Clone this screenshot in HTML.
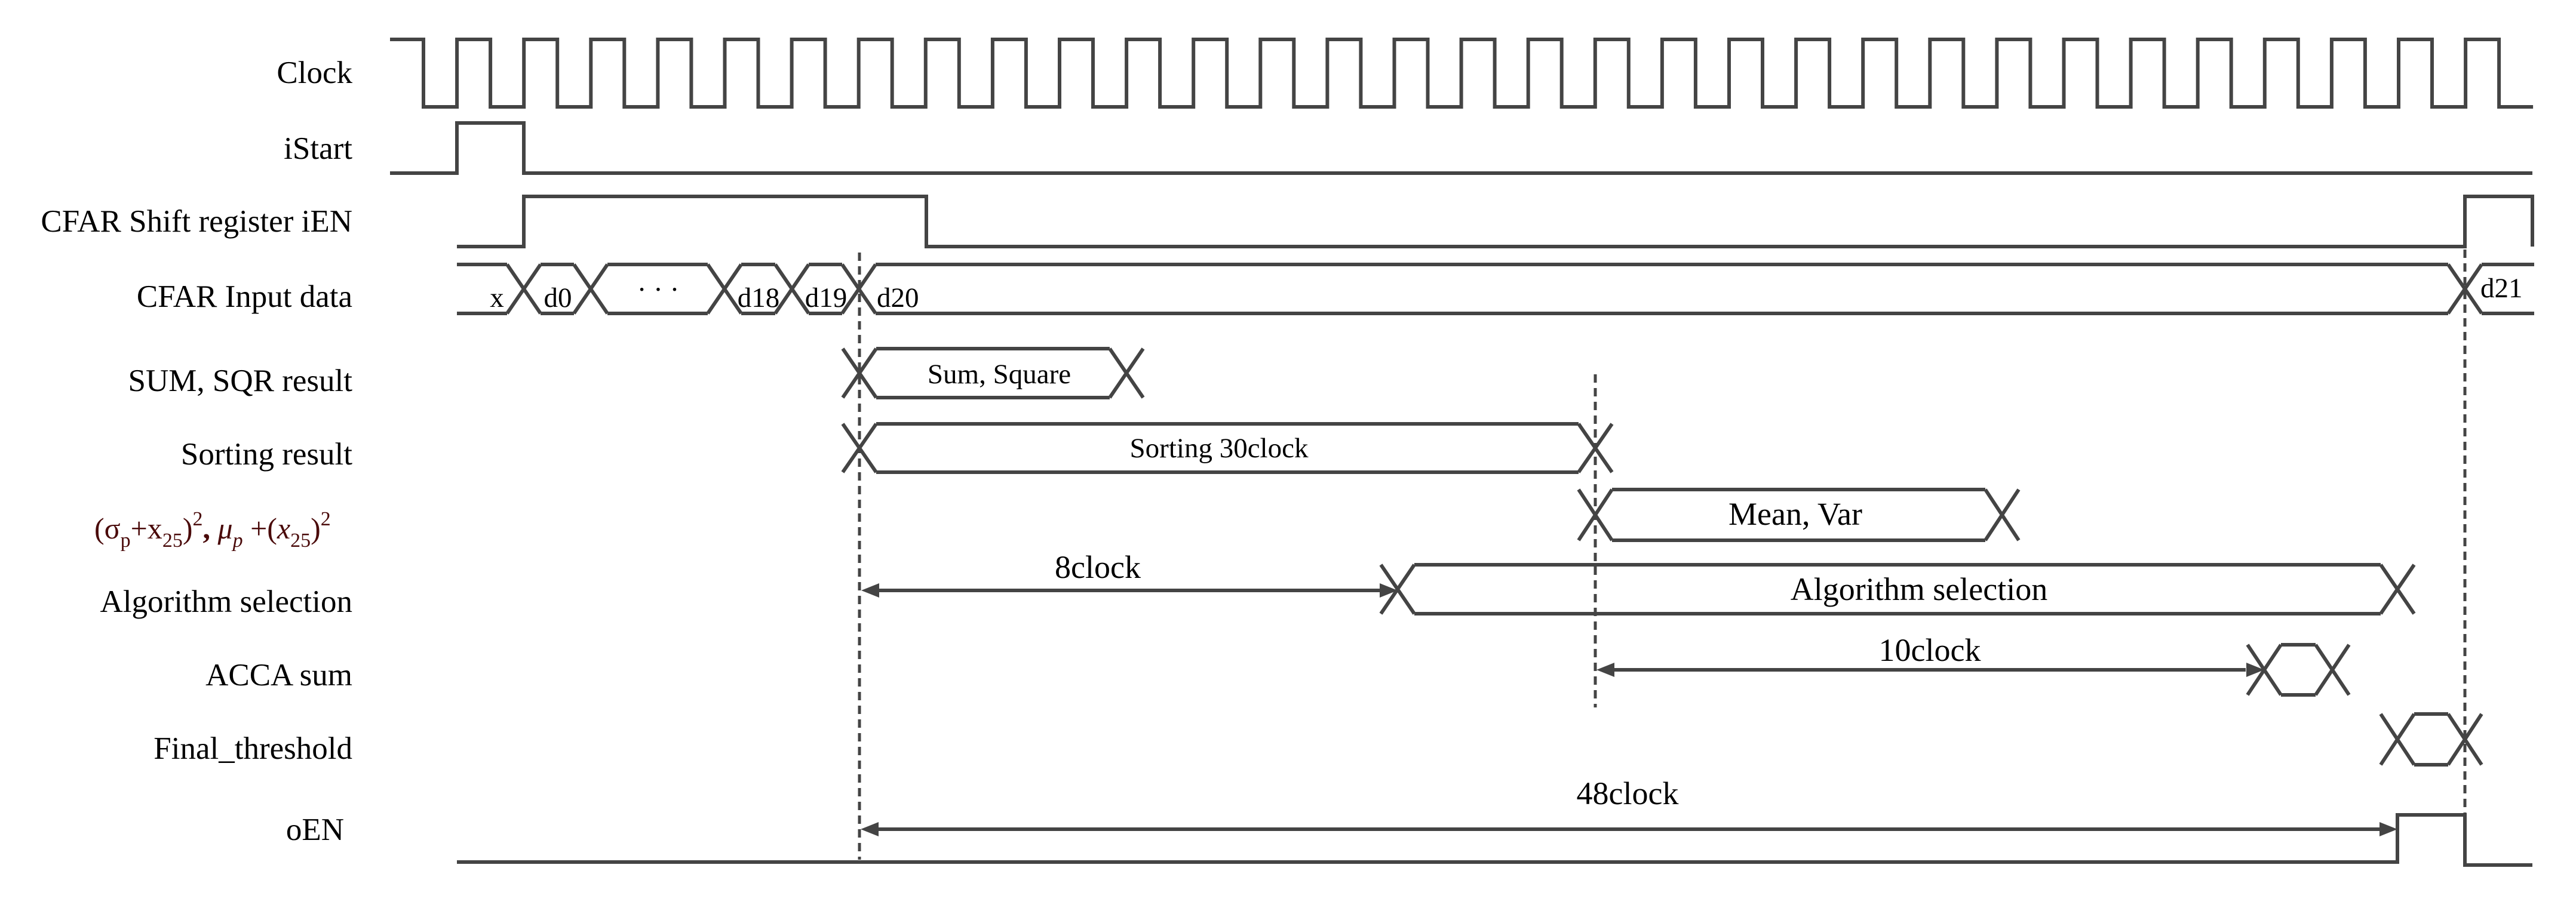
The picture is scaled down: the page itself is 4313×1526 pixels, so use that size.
<!DOCTYPE html>
<html><head><meta charset="utf-8"><style>
html,body{margin:0;padding:0;background:#fff;}
svg{display:block;}
text{font-family:"Liberation Serif",serif;fill:#000;}
</style></head><body>
<svg width="4313" height="1526" viewBox="0 0 4313 1526" xmlns="http://www.w3.org/2000/svg">
<g font-size="53" text-anchor="end">
<text x="590" y="139">Clock</text>
<text x="590" y="266">iStart</text>
<text x="590" y="388">CFAR Shift register iEN</text>
<text x="590" y="514">CFAR Input data</text>
<text x="590" y="655">SUM, SQR result</text>
<text x="590" y="778">Sorting result</text>
<text x="590" y="1025">Algorithm selection</text>
<text x="590" y="1148">ACCA sum</text>
<text x="590" y="1271">Final_threshold</text>
<text x="576" y="1407">oEN</text>
</g>
<text x="158" y="902" font-size="50" style="fill:#4a0a0a">(σ<tspan font-size="34" dy="14">p</tspan><tspan dy="-14">+x</tspan><tspan font-size="34" dy="14">25</tspan><tspan dy="-14">)</tspan><tspan font-size="34" dy="-22">2</tspan><tspan dy="22" font-weight="bold">, </tspan><tspan font-style="italic">μ</tspan><tspan font-size="34" font-style="italic" dy="14">p</tspan><tspan dy="-14"> +(</tspan><tspan font-style="italic">x</tspan><tspan font-size="34" dy="14">25</tspan><tspan dy="-14">)</tspan><tspan font-size="34" dy="-22">2</tspan></text>

<g fill="none" stroke="#444" stroke-width="6" stroke-linejoin="miter">
<!-- clock -->
<path d="M653,66 h56 v113 h56.1 v-113 h56 v113 h56.1 v-113 h56 v113 h56.1 v-113 h56 v113 h56.1 v-113 h56 v113 h56.1 v-113 h56 v113 h56.1 v-113 h56 v113 h56.1 v-113 h56 v113 h56.1 v-113 h56 v113 h56.1 v-113 h56 v113 h56.1 v-113 h56 v113 h56.1 v-113 h56 v113 h56.1 v-113 h56 v113 h56.1 v-113 h56 v113 h56.1 v-113 h56 v113 h56.1 v-113 h56 v113 h56.1 v-113 h56 v113 h56.1 v-113 h56 v113 h56.1 v-113 h56 v113 h56.1 v-113 h56 v113 h56.1 v-113 h56 v113 h56.1 v-113 h56 v113 h56.1 v-113 h56 v113 h56.1 v-113 h56 v113 h56.1 v-113 h56 v113 h56.1 v-113 h56 v113 h56.1 v-113 h56 v113 h56.1 v-113 h56 v113 h56.1 v-113 h56 v113 h56.1 v-113 h56 v113 h56.1 v-113 h56 v113 h56.1 v-113 h56 v113 h57"/>
<!-- iStart -->
<path d="M653,290 H765 V206 H877 V290 H4240"/>
<!-- iEN -->
<path d="M765,413 H877 V329 H1551 V413 H4127 V329 H4240 V413"/>
<!-- input data bus -->
<path d="M765,443 H849 M765,525 H849
M849,443 L905,525 M849,525 L905,443
M905,443 H961 M905,525 H961
M961,443 L1017,525 M961,525 L1017,443
M1017,443 H1185 M1017,525 H1185
M1185,443 L1241,525 M1185,525 L1241,443
M1241,443 H1298 M1241,525 H1298
M1298,443 L1354,525 M1298,525 L1354,443
M1354,443 H1410 M1354,525 H1410
M1410,443 L1466,525 M1410,525 L1466,443
M1466,443 H4099 M1466,525 H4099
M4099,443 L4155,525 M4099,525 L4155,443
M4155,443 H4243 M4155,525 H4243"/>
<!-- Sum, Square -->
<path d="M1411,584 L1467,666 M1411,666 L1467,584 M1467,584 H1858 M1467,666 H1858 M1858,584 L1914,666 M1858,666 L1914,584"/>
<!-- Sorting -->
<path d="M1411,710 L1467,791 M1411,791 L1467,710 M1467,710 H2643 M1467,791 H2643 M2643,710 L2699,791 M2643,791 L2699,710"/>
<!-- Mean, Var -->
<path d="M2643,820 L2699,905 M2643,905 L2699,820 M2699,820 H3324 M2699,905 H3324 M3324,820 L3380,905 M3324,905 L3380,820"/>
<!-- Algorithm selection -->
<path d="M2312,946 L2368,1028 M2312,1028 L2368,946 M2368,946 H3986 M2368,1028 H3986 M3986,946 L4042,1028 M3986,1028 L4042,946"/>
<!-- ACCA -->
<path d="M3763,1164 L3819,1080 M3763,1080 L3819,1164 M3819,1080 H3877 M3819,1164 H3877 M3877,1080 L3933,1164 M3877,1164 L3933,1080"/>
<!-- Final threshold -->
<path d="M3986,1281 L4042,1196 M3986,1196 L4042,1281 M4042,1196 H4099 M4042,1281 H4099 M4099,1196 L4155,1281 M4099,1281 L4155,1196"/>
<!-- oEN -->
<path d="M765,1444 H4014 V1365 H4127 V1449 H4240"/>
<!-- arrows shafts -->
<path d="M1470,989 H2310 M2700,1122 H3760 M1470,1389 H3985"/>
</g>
<g fill="none" stroke="#444" stroke-width="5" stroke-dasharray="14,9">
<path d="M1439,423 V1440 M2671,627 V1185 M4127,418 V1362"/>
</g>
<g fill="#444">
<polygon points="1442,989 1472,977 1472,1001"/>
<polygon points="2340,989 2310,977 2310,1001"/>
<polygon points="2673,1122 2703,1110 2703,1134"/>
<polygon points="3791,1122 3761,1110 3761,1134"/>
<polygon points="1441,1389 1471,1377 1471,1401"/>
<polygon points="4014,1389 3984,1377 3984,1401"/>
</g>
<g font-size="47">
<text x="832" y="514" text-anchor="middle">x</text>
<text x="934" y="514" text-anchor="middle">d0</text>
<text x="1102" y="500" text-anchor="middle">·  ·  ·</text>
<text x="1270" y="514" text-anchor="middle">d18</text>
<text x="1383" y="514" text-anchor="middle">d19</text>
<text x="1468" y="514">d20</text>
<text x="4153" y="498">d21</text>
<text x="1673" y="642" text-anchor="middle">Sum, Square</text>
<text x="2041" y="766" text-anchor="middle">Sorting 30clock</text>
</g>
<g font-size="54" text-anchor="middle">
<text x="3006" y="879">Mean, Var</text>
<text x="3213" y="1005">Algorithm selection</text>
<text x="1838" y="968">8clock</text>
<text x="3231" y="1107">10clock</text>
<text x="2725" y="1347">48clock</text>
</g>
</svg>
</body></html>
